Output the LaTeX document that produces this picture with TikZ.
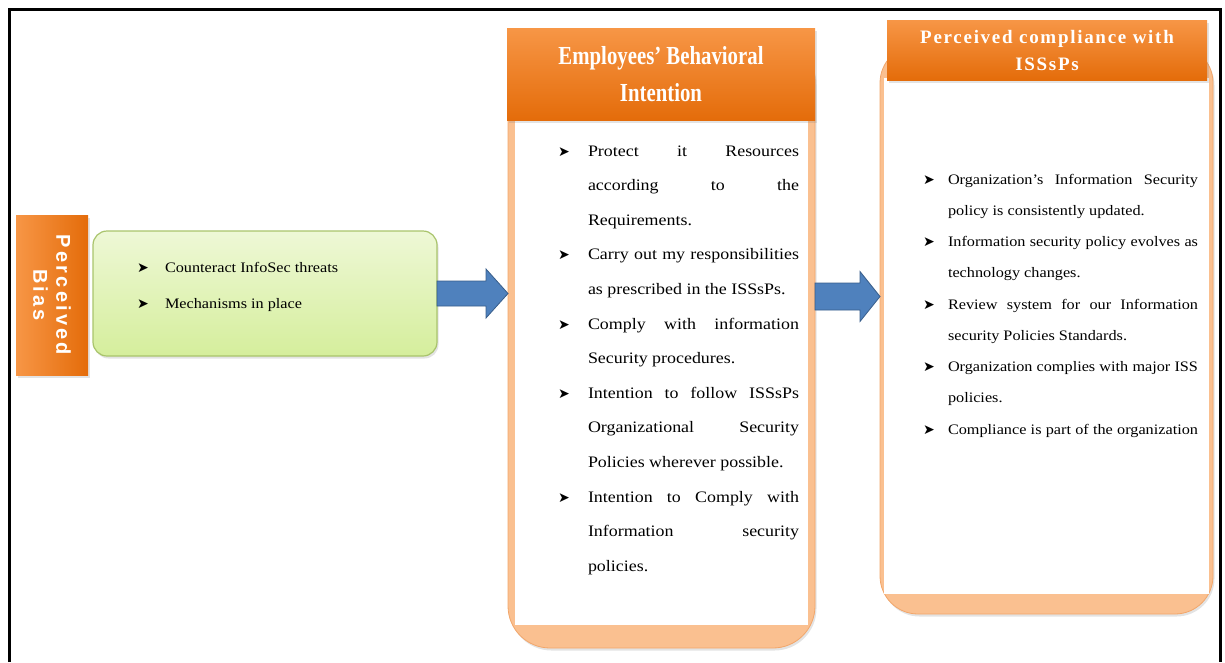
\documentclass[tikz,border=0pt]{standalone}
\usepackage{fontspec}
\setmainfont{Liberation Serif}[FakeStretch=1.12]
\newfontfamily\headfont{Liberation Serif}[FakeStretch=0.8]
\newfontfamily\capfont{Liberation Serif}[LetterSpace=9]
\newfontfamily\sidefont{Liberation Sans}[LetterSpace=16]
\newfontfamily\symfont{DejaVu Sans}
\usetikzlibrary{calc,shadows}

\definecolor{orgA}{HTML}{F79646}
\definecolor{orgB}{HTML}{E46C0A}
\definecolor{peach}{HTML}{FAC090}
\definecolor{peachline}{HTML}{F2A66A}
\definecolor{grA}{HTML}{EEF8D6}
\definecolor{grB}{HTML}{D5EE9C}
\definecolor{grline}{HTML}{A9C46C}
\definecolor{arrfill}{HTML}{4F81BD}
\definecolor{arrline}{HTML}{385D8A}

% bullet hung to the left of the text column
\newcommand\bul[1][29pt]{\llap{\makebox[#1][l]{\raisebox{0pt}{\symfont\fontsize{14}{14}\selectfont ➤}}}}
% a justified line and a ragged line
\newcommand\fl[1]{\hbox to\hsize{#1}}
\newcommand\rl[1]{\hbox{#1}}

% block arrow from #1 to the x of #2, shaft half-height #3, head half-height #4, head length #5
\newcommand\blockarrow[5]{%
  \draw[barrow] let \p1=(#1), \p2=(#2) in
    (\x1,\y1+#3) -- (\x2-#5,\y1+#3) -- (\x2-#5,\y1+#4) -- (\x2,\y1)
    -- (\x2-#5,\y1-#4) -- (\x2-#5,\y1-#3) -- (\x1,\y1-#3) -- cycle;}

\begin{document}
\begin{tikzpicture}[x=1pt,y=-1pt,
  every node/.style={inner sep=0pt, outer sep=0pt},
  softshadow/.style={drop shadow={opacity=0.22, shadow xshift=1.5pt, shadow yshift=-2.5pt}},
  sidebox/.style={left color=orgA, right color=orgB, softshadow},
  greenbox/.style={draw=grline, line width=1.2pt, top color=grA, bottom color=grB,
    rounded corners=14pt, softshadow},
  peachbox/.style={fill=peach, draw=peachline, line width=0.8pt, rounded corners=42pt, softshadow},
  whitebox/.style={fill=white},
  headbox/.style={top color=orgA, bottom color=orgB, softshadow, text=white, align=center},
  barrow/.style={fill=arrfill, draw=arrline, line width=0.8pt, line join=miter},
]
\useasboundingbox (0,0) rectangle (1225,662);

% outer frame, open at the bottom
\draw[line width=3.5pt] (9.5,662) -- (9.5,9.5) -- (1220.5,9.5) -- (1220.5,662);

% left: perceived bias and its measures
\node[sidebox, minimum width=72pt, minimum height=160pt] (pb) at (52,295) {};
\node[rotate=-90, align=center, text=white,
      font=\sidefont\bfseries\fontsize{20}{23}\selectfont] (pbt) at (pb.center) {Perceived\\Bias};

\node[greenbox, minimum width=344pt, minimum height=125pt] (g) at (265,293.5) {};
\node[anchor=base west] (gtext) at (165,272) {\parbox[t]{260pt}{\fontsize{14.5}{36}\selectfont
  \rl{\bul[28pt]Counteract InfoSec threats}
  \rl{\bul[28pt]Mechanisms in place}}};

% middle column
\node[peachbox, minimum width=307pt, minimum height=608pt] (mout) at (661.5,344) {};
\node[whitebox, minimum width=293pt, minimum height=507pt] (mwhite) at (661.5,371.5) {};
\node[headbox, minimum width=308pt, minimum height=92pt,
      font=\headfont\bfseries\fontsize{26}{37}\selectfont] (mhead) at (661,74)
      {Employees’ Behavioral\\Intention};
\node[anchor=base west] (mtext) at (588,156) {\parbox[t]{211pt}{\fontsize{16}{34.6}\selectfont
  \fl{\bul[30pt]Protect it Resources}
  \fl{according to the}
  \rl{Requirements.}
  \fl{\bul[30pt]Carry out my responsibilities}
  \rl{as prescribed in the ISSsPs.}
  \fl{\bul[30pt]Comply with information}
  \rl{Security procedures.}
  \fl{\bul[30pt]Intention to follow ISSsPs}
  \fl{Organizational Security}
  \rl{Policies wherever possible.}
  \fl{\bul[30pt]Intention to Comply with}
  \fl{Information security}
  \rl{policies.}}};

% right column
\node[peachbox, rounded corners=38pt, minimum width=333pt, minimum height=569pt] (rout) at (1046.5,329.5) {};
\node[whitebox, minimum width=325pt, minimum height=516pt] (rwhite) at (1046.5,336) {};
\node[headbox, minimum width=320pt, minimum height=60pt,
      font=\capfont\bfseries\fontsize{19}{27}\selectfont] (rhead) at (1047,50)
      {Perceived compliance with\\ISSsPs};
\node[anchor=base west] (rtext) at (948,184) {\parbox[t]{250pt}{\fontsize{14.5}{31.25}\selectfont
  \fl{\bul[25pt]Organization’s Information Security}
  \rl{policy is consistently updated.}
  \fl{\bul[25pt]Information security policy evolves as}
  \rl{technology changes.}
  \fl{\bul[25pt]Review system for our Information}
  \rl{security Policies Standards.}
  \fl{\bul[25pt]Organization complies with major ISS}
  \rl{policies.}
  \fl{\bul[25pt]Compliance is part of the organization}}};

% block arrows between the columns
\blockarrow{g.east}{g.east -| mout.west}{12.5pt}{24.5pt}{22pt}
\blockarrow{$(mout.east |- g.east)+(0,3)$}{rout.west}{13.5pt}{25pt}{20pt}
\end{tikzpicture}
\end{document}
